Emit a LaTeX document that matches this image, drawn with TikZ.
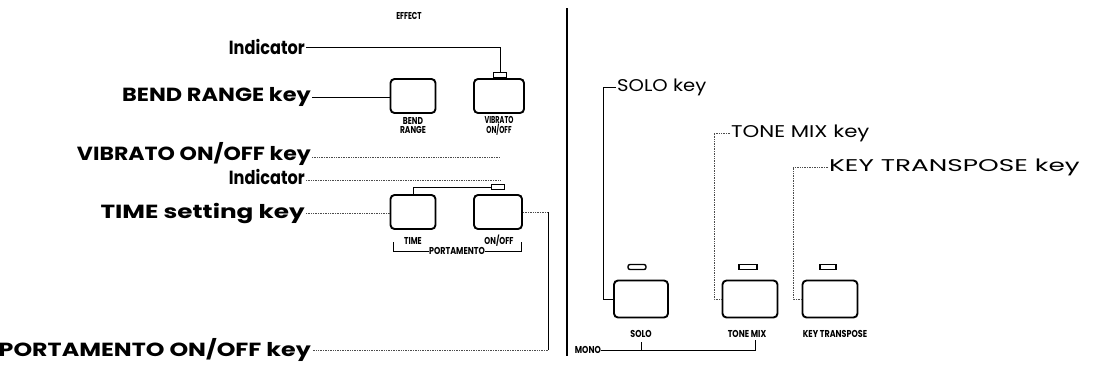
\documentclass[tikz,border=0pt]{standalone}
\usepackage{fontspec}
\usepackage{graphicx}
\setmainfont{Poppins}
\newcommand\hsc[2]{\scalebox{#1}[1]{#2}}
\begin{document}
\begin{tikzpicture}[x=1pt,y=-1pt,
  keybox/.style={draw,line width=1.9pt,rounded corners=4pt,minimum width=45pt,minimum height=34pt,inner sep=0pt},
  indbox/.style={draw,line width=1.4pt,minimum width=13pt,minimum height=5pt,inner sep=0pt},
  call/.style={font=\fontsize{19}{19}\selectfont\bfseries,inner sep=1pt},
  rcall/.style={font=\fontsize{17}{17}\selectfont,inner sep=1pt},
  klab/.style={font=\fontsize{10}{9}\selectfont\bfseries,align=center,inner sep=0pt},
  solidline/.style={line width=1pt},
  dotline/.style={line width=0.7pt,densely dotted,black!70}]
\useasboundingbox (0,0) rectangle (1093,384);
% ---------- left panel ----------
\node[font=\fontsize{10}{10}\selectfont\bfseries] (effect) at (409,16) {\hsc{0.72}{EFFECT}};
\node[keybox] (bend) at (413,96) {};
\node[keybox,minimum width=50pt] (vib) at (499,96) {};
\node[indbox] (ind1) at (500,75) {};
\node[klab] (lbend) at (413,126) {\hsc{0.75}{BEND}\\\hsc{0.75}{RANGE}};
\node[klab] (lvib) at (499,126) {\hsc{0.65}{VIBRATO}\\\hsc{0.65}{ON/OFF}};
\node[keybox] (time) at (413,212) {};
\node[keybox,minimum width=48pt] (onoff) at (498,212) {};
\node[indbox] (ind2) at (498,187) {};
\node[klab] (ltime) at (413,241) {\hsc{0.75}{TIME}};
\node[klab] (lonoff) at (499,241) {\hsc{0.75}{ON/OFF}};
\node[klab] (lport) at (457,251) {\hsc{0.8}{PORTAMENTO}};
\coordinate (bl) at (393,242);
\coordinate (br) at (521,242);
\draw[solidline] (bl) |- (lport.west);
\draw[solidline] (lport.east) -| (br);

\node[call,anchor=east] (cind1) at (306,47) {\hsc{0.85}{Indicator}};
\node[call,anchor=east] (cbend) at (312,97) {\hsc{1.18}{BEND RANGE key}};
\node[call,anchor=east] (cvib) at (312,154) {\hsc{1.16}{VIBRATO ON/OFF key}};
\node[call,anchor=east] (cind2) at (306,177) {\hsc{0.85}{Indicator}};
\node[call,anchor=east] (ctime) at (306,213) {\hsc{1.3}{TIME setting key}};
\node[call,anchor=east] (cport) at (312,350) {\hsc{1.25}{PORTAMENTO ON/OFF key}};

\draw[solidline] (cind1.east) -| (ind1.north);
\draw[solidline] (cbend.east) -- (cbend.east -| bend.west);
\coordinate (e3) at (500,157);
\coordinate (e4) at (500,180);
\draw[dotline] (cvib.east |- e3) -- (e3);
\draw[dotline] (cind2.east |- e4) -- (e4);
\draw[solidline] (time.north) |- (ind2.west);
\draw[dotline] (ctime.east) -- (ctime.east -| time.west);
\coordinate (pc) at (548,212);
\draw[dotline] (onoff.east) -- (pc);
\draw[solidline] (pc) -- (pc |- cport.east);
\draw[dotline] (pc |- cport.east) -- (cport.east);

% separator
\coordinate (sept) at (567,8);
\coordinate (sepb) at (567,356);
\draw[line width=2pt] (sept) -- (sepb);

% ---------- right panel ----------
\node[keybox,minimum width=54pt,minimum height=37pt] (solo) at (641,299) {};
\node[keybox,minimum width=55pt,minimum height=37pt] (tone) at (750,299) {};
\node[keybox,minimum width=55pt,minimum height=37pt] (ktr) at (830,299) {};
\node[indbox,minimum width=18pt,rounded corners=2pt] (isolo) at (637,267) {};
\node[indbox,minimum width=18pt] (itone) at (748,267) {};
\node[indbox,minimum width=16pt] (iktr) at (828,267) {};
\node[klab] (lsolo) at (641,334) {\hsc{0.8}{SOLO}};
\node[klab] (ltone) at (747,334) {\hsc{0.8}{TONE MIX}};
\node[klab] (lktr) at (835,334) {\hsc{0.8}{KEY TRANSPOSE}};
\node[klab,anchor=east] (lmono) at (601,350) {\hsc{0.8}{MONO}};
\coordinate (mt) at (641,342);
\coordinate (mr) at (755,340);
\draw[solidline] (lmono.east) -| (mr);
\draw[solidline] (mt) -- (mt |- lmono.east);

\node[rcall,anchor=west] (csolo) at (616,87) {\hsc{1.15}{SOLO key}};
\node[rcall,anchor=west] (ctone) at (730,133) {\hsc{1.25}{TONE MIX key}};
\node[rcall,anchor=west] (cktr) at (828,167) {\hsc{1.55}{KEY TRANSPOSE key}};
\coordinate (vs) at (603,87);
\coordinate (vt) at (714,133);
\coordinate (vk) at (793,167);
\draw[solidline] (csolo.west) -- (vs) |- (solo.west);
\draw[dotline] (ctone.west) -- (vt) |- (tone.west);
\draw[dotline] (cktr.west) -- (vk) |- (ktr.west);
\end{tikzpicture}
\end{document}
